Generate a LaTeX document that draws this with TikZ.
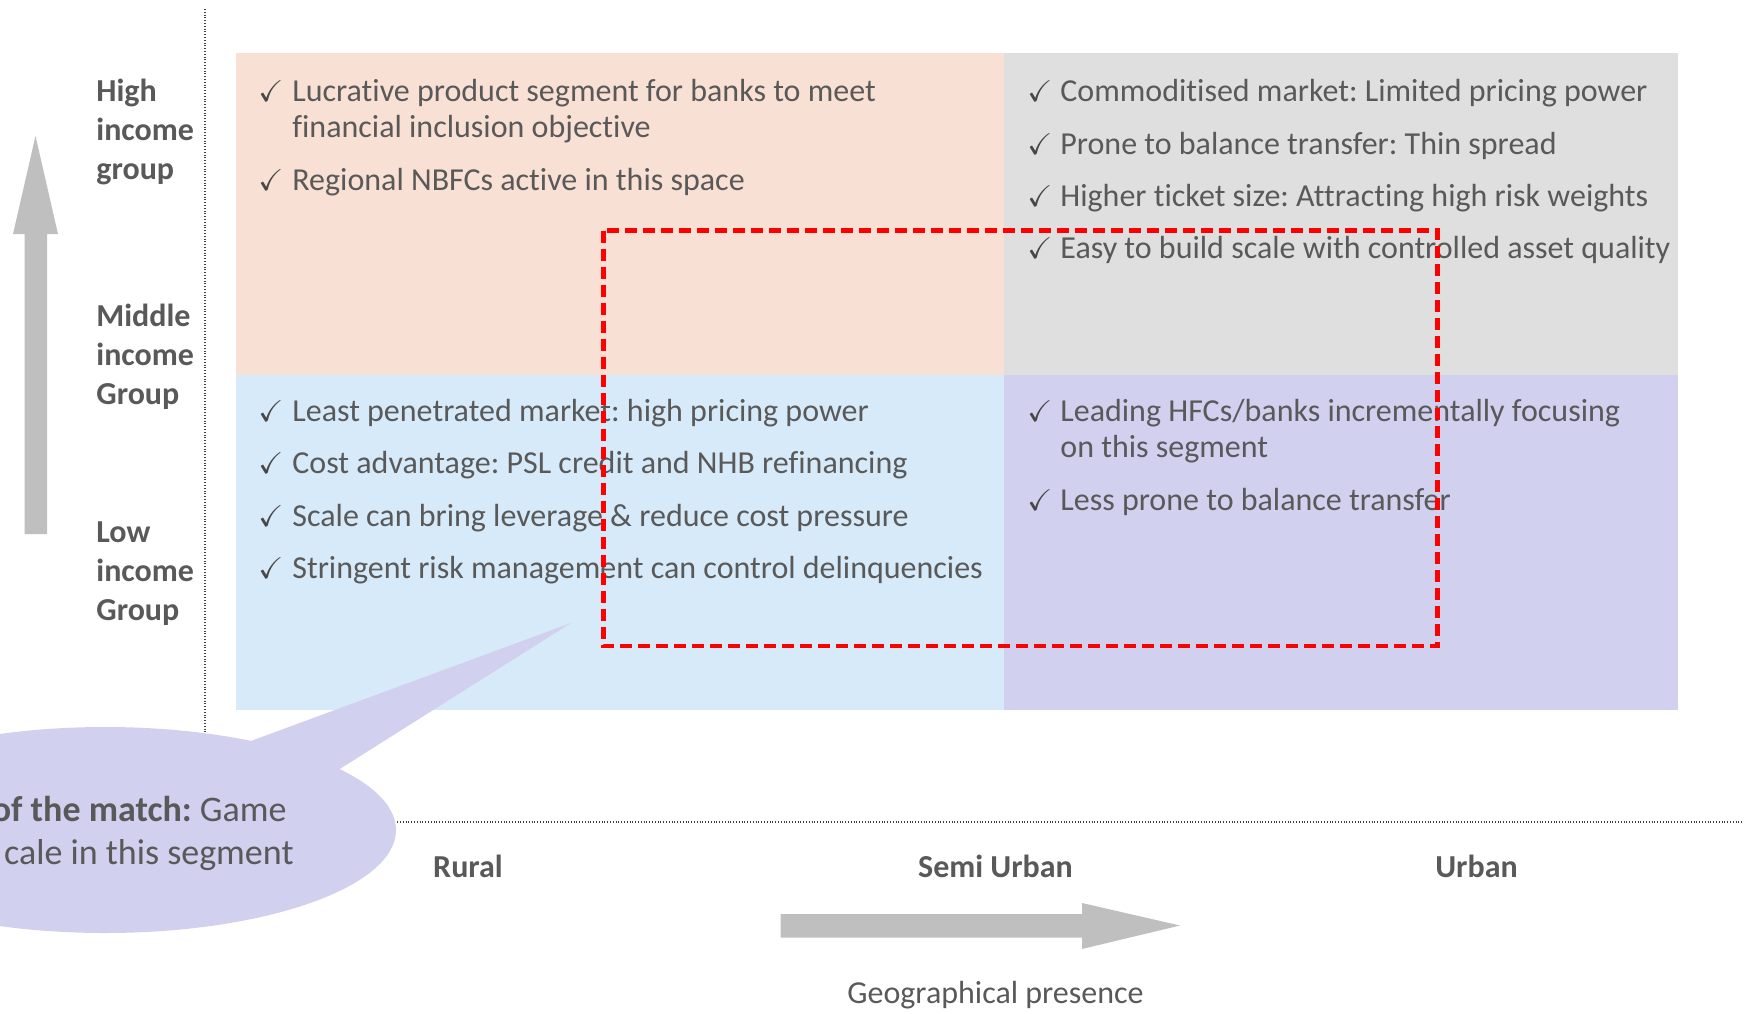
\documentclass[tikz,border=0pt]{standalone}
\usepackage{amssymb}
\usepackage{fontspec}
\setmainfont{Carlito}[Ligatures=NoCommon]
\usepackage{tikz}
\frenchspacing
\definecolor{txtgray}{HTML}{595959}
\definecolor{quadpeach}{HTML}{F9E0D4}
\definecolor{quadgray}{HTML}{DFDFDF}
\definecolor{quadblue}{HTML}{D7EAF9}
\definecolor{quadlav}{HTML}{D1D0EF}
\definecolor{arrowgray}{HTML}{BFBFBF}
\newcommand\stack[1]{\begin{tabular}[t]{@{}l@{}}#1\end{tabular}}
\tikzstyle{axislbl}=[anchor=base west,inner sep=0pt,text=txtgray,
font=\bfseries\fontsize{16}{19.5}\selectfont]
\tikzstyle{geo}=[anchor=base,inner sep=0pt,text=txtgray,
font=\bfseries\fontsize{16}{19.5}\selectfont]
\tikzstyle{tick}=[anchor=base west,inner sep=0pt,text=txtgray!80!black,
font=\fontsize{15}{18}\selectfont]
\tikzstyle{bullet}=[anchor=base west,inner sep=0pt,text=txtgray,
font=\fontsize{16}{18}\selectfont]
\tikzstyle{dotline}=[draw=black!75,line width=0.8pt,dash pattern=on 0.5pt off 0.9pt]

\begin{document}
\begin{tikzpicture}[x=0.5pt,y=-0.5pt]
        \useasboundingbox (0,0) rectangle (1746,1013);
        % quadrants
        \fill[quadpeach] (236,53) rectangle (1004,375);
        \fill[quadgray] (1004,53) rectangle (1678,375);
        \fill[quadblue] (236,375) rectangle (1004,710);
        \fill[quadlav] (1004,375) rectangle (1678,710);
        % axes
        \coordinate (vtop) at (205,9);
        \coordinate (corner) at (205,822);
        \coordinate (hend) at (1742,822);
        \draw[dotline] (vtop) -- (corner) -- (hend);
        \fill[arrowgray] (24.5,534) -- (24.5,234) -- (13,234) -- (35.5,136)
            -- (58,234) -- (47,234) -- (47,534) -- cycle;
        \fill[arrowgray] (780.5,914) -- (1082,914) -- (1082,903) -- (1180,925.5)
            -- (1082,949) -- (1082,937.5) -- (780.5,937.5) -- cycle;
        % income groups
        \node [style=axislbl] (high) at (96,101) {\stack{High\\income\\group}};
        \node [style=axislbl] (middle) at (96,326) {\stack{Middle\\income\\Group}};
        \node [style=axislbl] (low) at (96,542) {\stack{Low\\income\\Group}};
        % rural, high income
        \node [style=tick] (ck11) at (258,101) {$\checkmark$};
        \node [style=bullet] (tl1) at (292,101) {\stack{Lucrative product segment for banks to meet\\financial inclusion objective}};
        \node [style=tick] (ck12) at (258,190) {$\checkmark$};
        \node [style=bullet] (tl2) at (292,190) {Regional NBFCs active in this space};
        % urban, high income
        \node [style=tick] (ck21) at (1027,101) {$\checkmark$};
        \node [style=bullet] (tr1) at (1060,101) {Commoditised market: Limited pricing power};
        \node [style=tick] (ck22) at (1027,154) {$\checkmark$};
        \node [style=bullet] (tr2) at (1060,154) {Prone to balance transfer: Thin spread};
        \node [style=tick] (ck23) at (1027,206) {$\checkmark$};
        \node [style=bullet] (tr3) at (1060,206) {Higher ticket size: Attracting high risk weights};
        \node [style=tick] (ck24) at (1027,258) {$\checkmark$};
        \node [style=bullet] (tr4) at (1060,258) {Easy to build scale with controlled asset quality};
        % rural, low income
        \node [style=tick] (ck31) at (258,421) {$\checkmark$};
        \node [style=bullet] (bl1) at (292,421) {Least penetrated market: high pricing power};
        \node [style=tick] (ck32) at (258,473) {$\checkmark$};
        \node [style=bullet] (bl2) at (292,473) {Cost advantage: PSL credit and NHB refinancing};
        \node [style=tick] (ck33) at (258,526) {$\checkmark$};
        \node [style=bullet] (bl3) at (292,526) {Scale can bring leverage \& reduce cost pressure};
        \node [style=tick] (ck34) at (258,578) {$\checkmark$};
        \node [style=bullet] (bl4) at (292,578) {Stringent risk management can control delinquencies};
        % urban, low income
        \node [style=tick] (ck41) at (1027,421) {$\checkmark$};
        \node [style=bullet] (br1) at (1060,421) {\stack{Leading HFCs/banks incrementally focusing\\on this segment}};
        \node [style=tick] (ck42) at (1027,510) {$\checkmark$};
        \node [style=bullet] (br2) at (1060,510) {Less prone to balance transfer};
        % focus area
        \draw[red,line width=2.3pt,dash pattern=on 6pt off 3pt] (603.5,230.5) rectangle (1437.5,646);
        % callout
        \fill[quadlav] (105,830) ellipse [x radius=145.5pt,y radius=51.5pt];
        \fill[quadlav] (240,745) -- (571,623) -- (335,772) -- cycle;
        \node [anchor=base east,inner sep=0pt,text=txtgray,font=\fontsize{18}{21}\selectfont]
            (bubA) at (287,821) {\textbf{of the match:} Game};
        \node [anchor=base east,inner sep=0pt,text=txtgray,font=\fontsize{18}{21}\selectfont]
            (bubB) at (294,864) {cale in this segment};
        % geography
        \node [style=geo] (rural) at (468,877) {Rural};
        \node [style=geo] (semi) at (995.5,877) {Semi Urban};
        \node [style=geo] (urban) at (1476.5,877) {Urban};
        \node [anchor=base,inner sep=0pt,text=txtgray,font=\fontsize{16}{19}\selectfont]
            (geopres) at (995.5,1003) {Geographical presence};
    \end{tikzpicture}
\end{document}
